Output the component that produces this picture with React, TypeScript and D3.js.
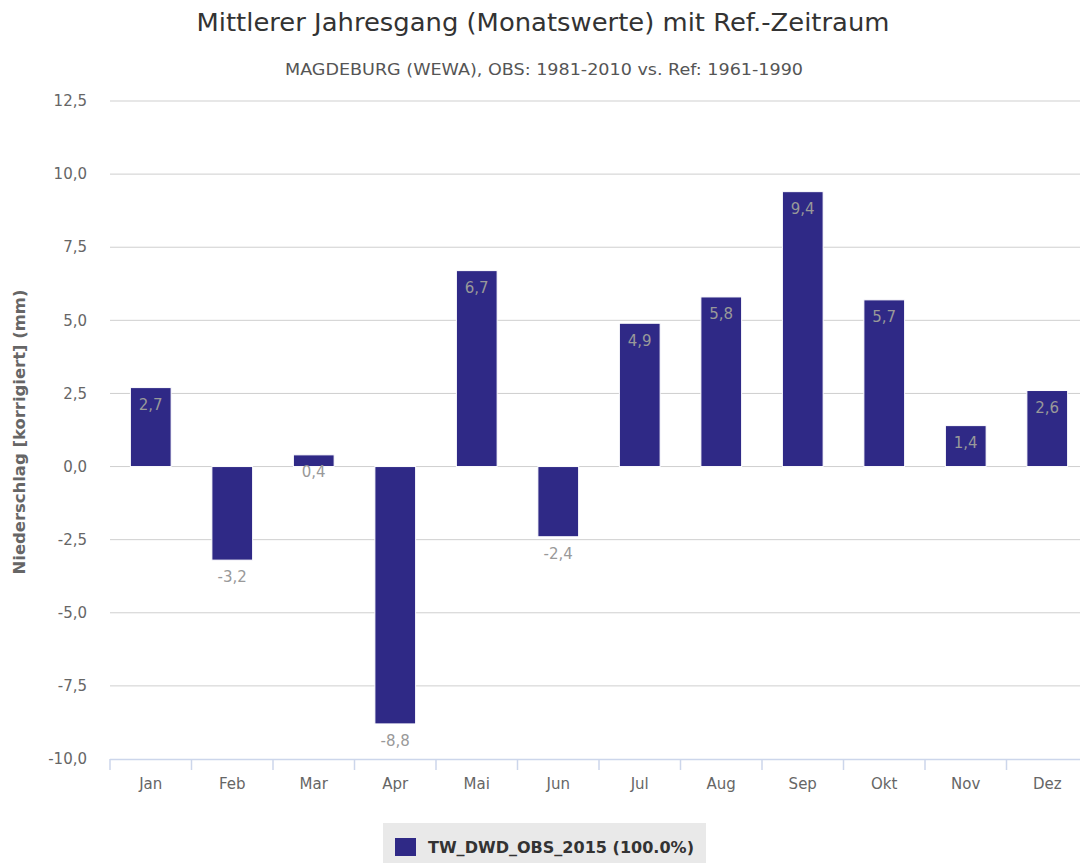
import React from "react";
import * as d3 from "d3";

// Monatswerte (Differenz OBS vs. Ref)
const months = ["Jan", "Feb", "Mar", "Apr", "Mai", "Jun", "Jul", "Aug", "Sep", "Okt", "Nov", "Dez"];
const values = [2.7, -3.2, 0.4, -8.8, 6.7, -2.4, 4.9, 5.8, 9.4, 5.7, 1.4, 2.6];
const yTicks = [-10, -7.5, -5, -2.5, 0, 2.5, 5, 7.5, 10, 12.5];

const title = "Mittlerer Jahresgang (Monatswerte) mit Ref.-Zeitraum";
const subtitle = "MAGDEBURG (WEWA), OBS: 1981-2010 vs. Ref: 1961-1990";
const yTitle = "Niederschlag [korrigiert] (mm)";
const seriesName = "TW_DWD_OBS_2015 (100.0%)";

const W = 1080;
const H = 863;
const FONT = "'DejaVu Sans', Verdana, sans-serif";
const BAR = "#2f2986";

const fmt = (v: number) => d3.format(".1f")(v).replace(".", ",").replace("−", "-");

export default function App() {
  const x = d3.scaleBand<string>().domain(months).range([110, 1088]).paddingInner(0.5).paddingOuter(0.25);
  const y = d3.scaleLinear().domain([-10, 12.5]).range([759, 101]);

  // band boundaries for the x axis ticks
  const step = x.step();
  const bounds = d3.range(months.length + 1).map((i) => 110 + i * step);

  return (
    <svg width={W} height={H} style={{ position: "absolute", left: 0, top: 0, background: "#fff" }} fontFamily={FONT}>
      <text x={543} y={31} textAnchor="middle" fontSize={25.5} fill="#333" textLength={693} lengthAdjust="spacingAndGlyphs">{title}</text>
      <text x={544} y={75} textAnchor="middle" fontSize={16} fill="#555" textLength={518} lengthAdjust="spacingAndGlyphs">{subtitle}</text>

      {/* grid + y labels */}
      {yTicks.map((t) => (
        <g key={t}>
          {t !== -10 && <line x1={110} x2={W} y1={y(t)} y2={y(t)} stroke="#cfcfcf" strokeWidth={1} />}
          <text x={87} y={y(t)} dy="0.35em" textAnchor="end" fontSize={15} fill="#666">{fmt(t)}</text>
        </g>
      ))}

      <text transform={`translate(25,${432}) rotate(-90)`} textAnchor="middle" fontSize={16} fill="#666" fontWeight={600} textLength={285} lengthAdjust="spacingAndGlyphs">{yTitle}</text>

      {/* bars */}
      {values.map((v, i) => (
        <rect key={months[i]} x={x(months[i])} width={x.bandwidth()} y={y(Math.max(v, 0))} height={Math.abs(y(v) - y(0))} fill={BAR} stroke="#fff" strokeWidth={1} />
      ))}
      {values.map((v, i) => (
        <text key={"l" + i} x={(x(months[i]) as number) + x.bandwidth() / 2} y={y(v) + 17} dy="0.35em" textAnchor="middle" fontSize={15} fill="#999">{fmt(v)}</text>
      ))}

      {/* x axis */}
      <line x1={110} x2={W} y1={y(-10) + 0.5} y2={y(-10) + 0.5} stroke="#ccd6eb" strokeWidth={1.5} />
      {bounds.map((b, i) => (
        <line key={"t" + i} x1={b} x2={b} y1={y(-10)} y2={y(-10) + 11} stroke="#ccd6eb" strokeWidth={1.5} />
      ))}
      {months.map((m) => (
        <text key={"x" + m} x={(x(m) as number) + x.bandwidth() / 2} y={784} dy="0.35em" textAnchor="middle" fontSize={15} fill="#666">{m}</text>
      ))}

      {/* legend */}
      <rect x={383} y={823} width={323} height={40} fill="#e9e9e9" />
      <rect x={395} y={838} width={21} height={18} fill={BAR} />
      <text x={428} y={847} dy="0.35em" fontSize={16} fontWeight="bold" fill="#333" textLength={266} lengthAdjust="spacingAndGlyphs">{seriesName}</text>
    </svg>
  );
}
